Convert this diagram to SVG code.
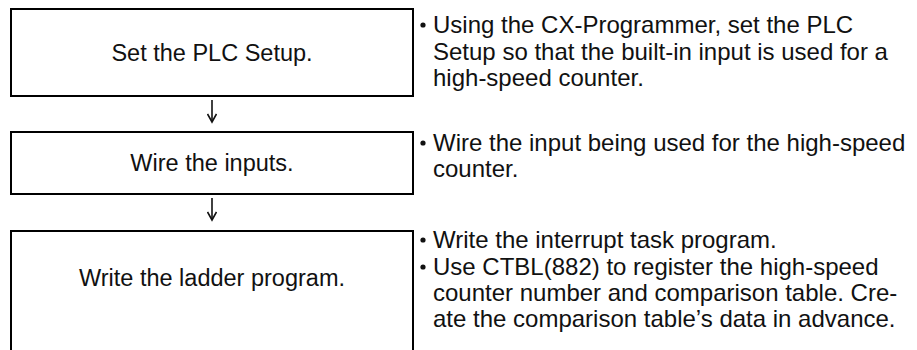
<svg xmlns="http://www.w3.org/2000/svg" width="917" height="350" viewBox="0 0 917 350">
<style>
  .box { fill: #ffffff; stroke: #000000; stroke-width: 2; }
  .lbl { font-family: "Liberation Sans", Arial, Helvetica, sans-serif; font-size: 23.5px; fill: #111111; }
  .note { font-family: "Liberation Sans", Arial, Helvetica, sans-serif; font-size: 24px; fill: #111111; }
  .mid { text-anchor: middle; }
  .dot { fill: #111111; }
  .conn { stroke: #111111; stroke-width: 1.6; fill: none; }
</style>
<defs>
  <marker id="vhead" viewBox="0 0 12 10" refX="10" refY="5" markerWidth="12" markerHeight="10" markerUnits="userSpaceOnUse" orient="auto">
    <path d="M2,0.5 L10,5 L2,9.5" fill="none" stroke="#111111" stroke-width="1.6"/>
  </marker>
</defs>
<rect width="917" height="350" fill="#ffffff"/>
<g id="connectors">
  <line class="conn" x1="212" y1="100" x2="212" y2="122" marker-end="url(#vhead)"/>
  <line class="conn" x1="212" y1="198" x2="212" y2="220" marker-end="url(#vhead)"/>
</g>
<g id="node-plc-setup">
  <rect class="box" x="11" y="9" width="402" height="87"/>
  <text class="lbl mid" x="212" y="61">Set the PLC Setup.</text>
</g>
<g id="node-wire-inputs">
  <rect class="box" x="11" y="132" width="402" height="62"/>
  <text class="lbl mid" x="212" y="171">Wire the inputs.</text>
</g>
<g id="node-ladder">
  <rect class="box" x="11" y="231" width="402" height="125"/>
  <text class="lbl mid" x="212" y="286">Write the ladder program.</text>
</g>
<g id="notes-plc-setup">
  <circle class="dot" cx="423" cy="25" r="2.6"/>
  <text class="note" x="433" y="33">Using the CX-Programmer, set the PLC</text>
  <text class="note" x="433" y="59.5">Setup so that the built-in input is used for a</text>
  <text class="note" x="433" y="86">high-speed counter.</text>
</g>
<g id="notes-wire-inputs">
  <circle class="dot" cx="423" cy="143" r="2.6"/>
  <text class="note" x="433" y="151">Wire the input being used for the high-speed</text>
  <text class="note" x="433" y="177">counter.</text>
</g>
<g id="notes-ladder">
  <circle class="dot" cx="423" cy="240" r="2.6"/>
  <text class="note" x="433" y="248">Write the interrupt task program.</text>
  <circle class="dot" cx="423" cy="267" r="2.6"/>
  <text class="note" x="433" y="275">Use CTBL(882) to register the high-speed</text>
  <text class="note" x="433" y="301">counter number and comparison table. Cre-</text>
  <text class="note" x="433" y="327">ate the comparison table’s data in advance.</text>
</g>
</svg>
